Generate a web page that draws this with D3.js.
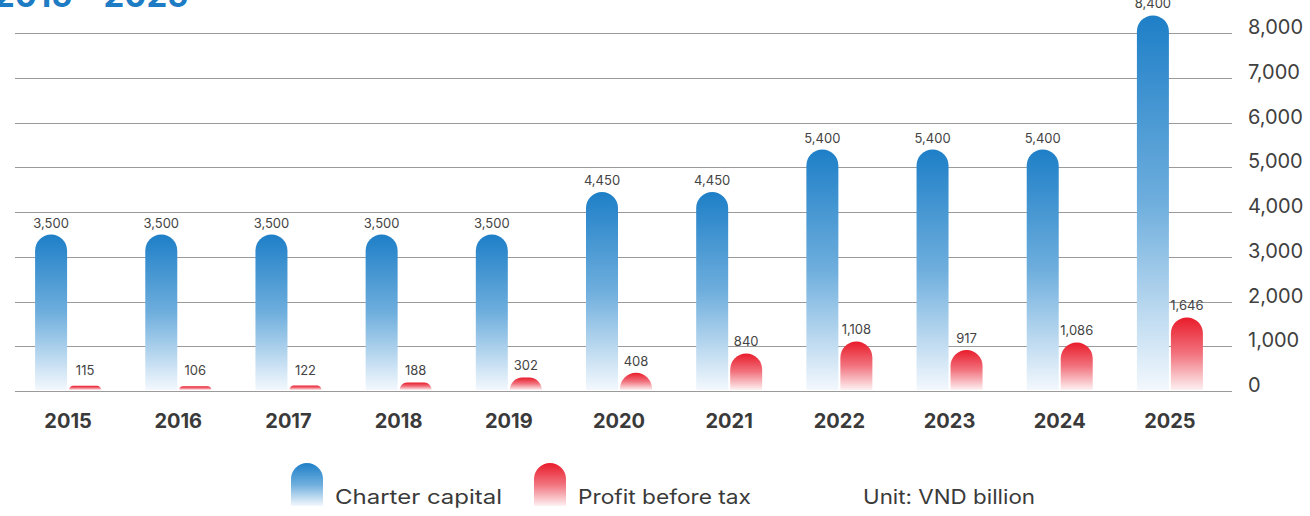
<!DOCTYPE html>
<meta charset="utf-8">
<head>
<title>Charter capital and profit 2015 - 2025</title>
<script src="https://cdn.jsdelivr.net/npm/d3@7"></script>
<style>
  body { margin: 0; background: #fff; }
  text { font-family: Inter, "Open Sans", sans-serif; }
  .grid line { stroke: #9a9a9a; stroke-width: 1; }
  .ylab { font-size: 20px; fill: #404040; }
  .xlab { font-size: 20px; font-weight: 700; fill: #3a3a3a; text-anchor: middle; }
  .val { font-size: 13px; fill: #444; text-anchor: middle; }
  .leg { font-size: 20px; fill: #3a3a3a; }
</style>
</head>
<body>
<div id="chart"></div>
<script>
// data
var years = ["2015","2016","2017","2018","2019","2020","2021","2022","2023","2024","2025"];
var capital = [3500,3500,3500,3500,3500,4450,4450,5400,5400,5400,8400];
var profit = [115,106,122,188,302,408,840,1108,917,1086,1646];
var yTicks = [0,1000,2000,3000,4000,5000,6000,7000,8000];

var width = 1310, height = 516;

var svg = d3.select("#chart").append("svg")
    .attr("width", width)
    .attr("height", height);

var defs = svg.append("defs");
function grad(id, top, mid, bottom) {
  var g = defs.append("linearGradient").attr("id", id)
      .attr("x1", 0).attr("y1", 0).attr("x2", 0).attr("y2", 1);
  g.append("stop").attr("offset", "0%").attr("stop-color", top);
  g.append("stop").attr("offset", "50%").attr("stop-color", mid);
  g.append("stop").attr("offset", "100%").attr("stop-color", bottom);
}
grad("gBlue", "#1e7fc7", "#6eaedd", "#f3f8fd");
grad("gRed", "#e91c2b", "#f1737e", "#fdf1f2");

// scales
var x = d3.scaleBand().domain(years).range([13, 1225]);
var y = d3.scaleLinear().domain([0, 7000]).range([391, 78]);

// title (cut at top edge, as in the original)
svg.append("text")
    .attr("x", -6).attr("y", 7)
    .style("font-size", "33px").style("font-weight", 700)
    .style("fill", "#1d7cc4")
    .text("2015 - 2025");

// gridlines
var grid = svg.append("g").attr("class", "grid");
grid.selectAll("line").data(yTicks).enter().append("line")
    .attr("x1", 15).attr("x2", 1232)
    .attr("y1", function(d){ return Math.round(y(d)) + 0.5; })
    .attr("y2", function(d){ return Math.round(y(d)) + 0.5; });

svg.selectAll(".ylab").data(yTicks).enter().append("text")
    .attr("class", "ylab")
    .attr("x", 1248)
    .attr("y", function(d){ return y(d) - 6; })
    .attr("dy", "0.35em")
    .text(function(d){ return d3.format(",")(d); });

// bar path with rounded top
function barPath(x0, w, yt, yb) {
  var h = yb - yt;
  var r = Math.min(w / 2, h);
  var x1 = x0 + w;
  return "M" + x0 + "," + yb +
    "L" + x0 + "," + (yt + r) +
    "A" + r + "," + r + " 0 0 1 " + (x0 + r) + "," + yt +
    "L" + (x1 - r) + "," + yt +
    "A" + r + "," + r + " 0 0 1 " + x1 + "," + (yt + r) +
    "L" + x1 + "," + yb + "Z";
}

var bw = 32;
var cx = function(i){ return x(years[i]) + x.bandwidth() / 2; };

// charter capital bars
svg.selectAll(".cap").data(capital).enter().append("path")
    .attr("class", "cap")
    .attr("fill", "url(#gBlue)")
    .attr("d", function(d, i){ return barPath(cx(i) - bw - 1, bw, y(d), y(0) - 1); });

svg.selectAll(".capv").data(capital).enter().append("text")
    .attr("class", "val")
    .attr("x", function(d, i){ return cx(i) - bw / 2 - 1; })
    .attr("y", function(d){ return y(d) - 7; })
    .text(function(d){ return d3.format(",")(d); });

// profit bars
svg.selectAll(".pro").data(profit).enter().append("path")
    .attr("class", "pro")
    .attr("fill", "url(#gRed)")
    .attr("d", function(d, i){ return barPath(cx(i) + 1, bw, y(d), y(0) - 1); });

svg.selectAll(".prov").data(profit).enter().append("text")
    .attr("class", "val")
    .attr("x", function(d, i){ return cx(i) + bw / 2 + 1; })
    .attr("y", function(d){ return Math.min(y(d), y(0) - 9) - 7; })
    .text(function(d){ return d3.format(",")(d); });

// year labels
svg.selectAll(".xlab").data(years).enter().append("text")
    .attr("class", "xlab")
    .attr("x", function(d){ return x(d) + x.bandwidth() / 2; })
    .attr("y", 428)
    .text(function(d){ return d; });

// legend
var legend = [
  {label: "Charter capital", fill: "url(#gBlue)", x: 291, len: 167},
  {label: "Profit before tax", fill: "url(#gRed)", x: 534, len: 173}
];
legend.forEach(function(l){
  svg.append("path").attr("fill", l.fill)
      .attr("d", barPath(l.x, 32, 463, 506));
  svg.append("text").attr("class", "leg")
      .attr("x", l.x + 44).attr("y", 504)
      .attr("textLength", l.len).attr("lengthAdjust", "spacingAndGlyphs")
      .text(l.label);
});
svg.append("text").attr("class", "leg")
    .attr("x", 863).attr("y", 504)
    .attr("textLength", 172).attr("lengthAdjust", "spacingAndGlyphs")
    .text("Unit: VND billion");
</script>
</body>
